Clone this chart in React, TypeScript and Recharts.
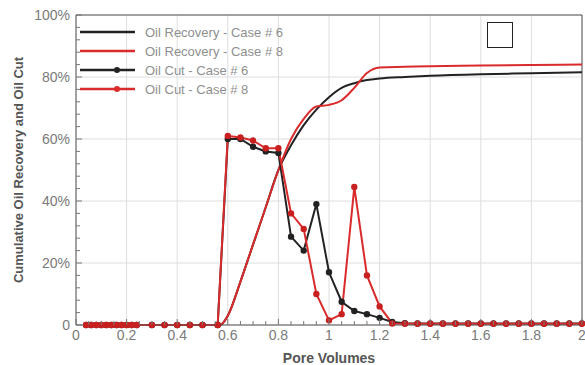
import React from 'react';
import { LineChart, Line, CartesianGrid, XAxis, YAxis, ReferenceLine } from 'recharts';

// pore volumes where the oil cut was sampled
const cutPV = [
  0.04, 0.06, 0.08, 0.1, 0.12, 0.14, 0.16, 0.18, 0.2, 0.22, 0.24,
  0.3, 0.35, 0.4, 0.45, 0.5, 0.56,
  0.6, 0.65, 0.7, 0.75, 0.8, 0.85, 0.9, 0.95, 1, 1.05, 1.1, 1.15, 1.2, 1.25,
  1.3, 1.35, 1.4, 1.45, 1.5, 1.55, 1.6, 1.65, 1.7, 1.75, 1.8, 1.85, 1.9, 1.95, 2,
];
const cutCase6 = [
  0, 0, 0, 0, 0, 0, 0, 0, 0, 0, 0,
  0, 0, 0, 0, 0, 0,
  60, 60, 57.5, 56, 55.5, 28.5, 24, 39, 17, 7.5, 4.5, 3.5, 2.3, 1,
  0.6, 0.5, 0.5, 0.5, 0.5, 0.5, 0.5, 0.5, 0.5, 0.5, 0.5, 0.5, 0.5, 0.5, 0.5,
];
const cutCase8 = [
  0, 0, 0, 0, 0, 0, 0, 0, 0, 0, 0,
  0, 0, 0, 0, 0, 0,
  61, 60.5, 59.5, 57, 57, 36, 31, 10, 1.5, 3.5, 44.5, 16, 6, 0.5,
  0.4, 0.4, 0.4, 0.4, 0.4, 0.4, 0.4, 0.4, 0.4, 0.4, 0.4, 0.4, 0.4, 0.4, 0.4,
];

// cumulative recovery curves
const recPV = [0.04, 0.57, 0.6, 0.65, 0.7, 0.75, 0.8, 0.85, 0.9, 0.95, 1, 1.05, 1.1, 1.15, 1.2, 1.3, 1.4, 1.6, 1.8, 2];
const recCase6 = [0, 0, 3, 14, 26, 38, 50, 58, 64.5, 69.5, 73.5, 76.5, 78, 79, 79.5, 80, 80.4, 80.9, 81.2, 81.5];
const recCase8 = [0, 0, 3, 14, 26, 38, 50, 60, 66.5, 70.5, 71, 72.5, 76.5, 81.3, 83.1, 83.3, 83.5, 83.7, 83.9, 84];

const xMajor = [0, 0.2, 0.4, 0.6, 0.8, 1, 1.2, 1.4, 1.6, 1.8, 2];
const xLabels = ['0', '0.2', '0.4', '0.6', '0.8', '1', '1.2', '1.4', '1.6', '1.8', '2'];
const yMajor = [0, 20, 40, 60, 80, 100];
const yLabels = ['0', '20%', '40%', '60%', '80%', '100%'];
const xMinor = Array.from({ length: 41 }, (_, i) => Math.round(i * 5) / 100);
const yMinor = Array.from({ length: 26 }, (_, i) => i * 4);

const series = [
  { name: 'Oil Recovery - Case # 6', color: '#222222', marker: false },
  { name: 'Oil Recovery - Case # 8', color: '#d92b2b', marker: false },
  { name: 'Oil Cut  - Case # 6', color: '#222222', marker: true },
  { name: 'Oil Cut - Case # 8', color: '#d92b2b', marker: true },
];

const rec6 = recPV.map((pv, i) => ({ pv, v: recCase6[i] }));
const rec8 = recPV.map((pv, i) => ({ pv, v: recCase8[i] }));
const cut6 = cutPV.map((pv, i) => ({ pv, v: cutCase6[i] }));
const cut8 = cutPV.map((pv, i) => ({ pv, v: cutCase8[i] }));

const FONT = '"Liberation Sans", Arial, sans-serif';

const XTick = (props: any) => {
  const { x, y, payload } = props;
  const idx = xMajor.findIndex((m) => Math.abs(m - payload.value) < 1e-6);
  return (
    <g>
      <line x1={x} x2={x} y1={y} y2={y - (idx >= 0 ? 6 : 4)} stroke="#777" />
      {idx >= 0 && (
        <text x={x} y={y + 15} textAnchor="middle" fontSize={14} fill="#7a7a7a" fontFamily={FONT}>
          {xLabels[idx]}
        </text>
      )}
    </g>
  );
};

const YTick = (props: any) => {
  const { x, y, payload } = props;
  const idx = yMajor.indexOf(payload.value);
  return (
    <g>
      <line x1={x} x2={x + (idx >= 0 ? 6 : 4)} y1={y} y2={y} stroke="#777" />
      {idx >= 0 && (
        <text x={x - 6} y={y + 5} textAnchor="end" fontSize={14} fill="#7a7a7a" fontFamily={FONT}>
          {yLabels[idx]}
        </text>
      )}
    </g>
  );
};

// legend drawn as an overlay so it does not take space from the plot
const LegendBox = () => (
  <svg width={240} height={80} style={{ position: 'absolute', left: 76, top: 22 }}>
    {series.map((s, i) => {
      const cy = 10 + i * 19;
      return (
        <g key={s.name}>
          <line x1={4} x2={59} y1={cy} y2={cy} stroke={s.color} strokeWidth={2.5} />
          {s.marker && <circle cx={41} cy={cy} r={3} fill={s.color} />}
          <text x={69} y={cy + 5} fontSize={13} fill="#8f8f8f" fontFamily={FONT}>
            {s.name}
          </text>
        </g>
      );
    })}
  </svg>
);

const App = () => {
  return (
    <div style={{ position: 'absolute', left: 0, top: 0, width: 585, height: 365, background: '#fff' }}>
      <LineChart width={585} height={365} margin={{ top: 15, right: 3, bottom: 0, left: 0 }}>
        <CartesianGrid stroke="#dedede" horizontalValues={yMajor} verticalValues={xMajor} />
        <XAxis
          dataKey="pv"
          type="number"
          domain={[0, 2]}
          ticks={xMinor}
          interval={0}
          tick={<XTick />}
          tickLine={false}
          tickSize={0}
          tickMargin={0}
          height={40}
          stroke="#555"
          allowDuplicatedCategory={false}
          label={{ value: 'Pore Volumes', position: 'insideBottom', offset: 2, fontSize: 14, fontWeight: 'bold', fill: '#555', fontFamily: FONT }}
        />
        <YAxis
          type="number"
          domain={[0, 100]}
          ticks={yMinor}
          interval={0}
          tick={<YTick />}
          tickLine={false}
          tickSize={0}
          tickMargin={0}
          width={76}
          stroke="#555"
          label={{ value: 'Cumulative Oil Recovery and Oil Cut', angle: -90, position: 'insideLeft', offset: 18, style: { textAnchor: 'middle' }, fontSize: 13, fontWeight: 'bold', fill: '#555', fontFamily: FONT }}
        />
        <ReferenceLine y={100} stroke="#555" />
        <ReferenceLine x={2} stroke="#555" />
        <Line data={rec6} dataKey="v" type="monotone" stroke="#222222" strokeWidth={2} dot={false} isAnimationActive={false} />
        <Line data={rec8} dataKey="v" type="monotone" stroke="#d92b2b" strokeWidth={2} dot={false} isAnimationActive={false} />
        <Line data={cut6} dataKey="v" type="linear" stroke="#222222" strokeWidth={2} dot={{ r: 2.2, fill: '#222222', stroke: '#222222' }} isAnimationActive={false} />
        <Line data={cut8} dataKey="v" type="linear" stroke="#d92b2b" strokeWidth={2} dot={{ r: 2.2, fill: '#c82020', stroke: '#c82020' }} isAnimationActive={false} />
      </LineChart>
      <LegendBox />
      <div style={{ position: 'absolute', left: 487, top: 22, width: 24, height: 24, border: '1.5px solid #222', background: '#fff' }} />
    </div>
  );
};

export default App;
